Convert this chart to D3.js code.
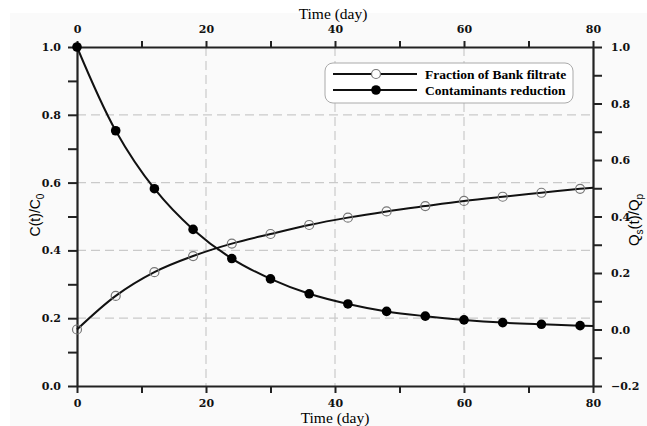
<!DOCTYPE html>
<html>
<head>
<meta charset="utf-8">
<script src="https://cdn.jsdelivr.net/npm/d3@7"></script>
<style>
  body { margin: 0; background: #fff; }
</style>
</head>
<body>
<div id="chart"></div>
<script>
// marker days (every 6 days) and the end of the curves at day 80
var markerDays = [0, 6, 12, 18, 24, 30, 36, 42, 48, 54, 60, 66, 72, 78];
var lineDays = [0, 6, 12, 18, 24, 30, 36, 42, 48, 54, 60, 66, 72, 78, 80];

// C(t)/C0, left axis
var contaminants = [1.0, 0.753, 0.582, 0.462, 0.376, 0.316, 0.272, 0.242, 0.220, 0.206, 0.195, 0.187, 0.182, 0.178, 0.177];
// Qs(t)/Qp, right axis
var bankFiltrate = [0.0, 0.119, 0.203, 0.260, 0.304, 0.338, 0.370, 0.396, 0.418, 0.437, 0.455, 0.470, 0.484, 0.498, 0.502];

var xTicks = [0, 10, 20, 30, 40, 50, 60, 70, 80];
var leftTicks = [0, 0.1, 0.2, 0.3, 0.4, 0.5, 0.6, 0.7, 0.8, 0.9, 1.0];
var rightTicks = [-0.2, -0.1, 0, 0.1, 0.2, 0.3, 0.4, 0.5, 0.6, 0.7, 0.8, 0.9, 1.0];
var gridX = [20, 40, 60];
var gridY = [0.2, 0.4, 0.6, 0.8];
var legendLabels = ["Fraction of Bank filtrate", "Contaminants reduction"];

var W = 647, H = 426;
var margins = { top: 47, right: 54, bottom: 40, left: 77 },
  width = W - margins.left - margins.right,
  height = H - margins.top - margins.bottom;

var svg = d3.select("#chart").append("svg")
  .attr("width", W).attr("height", H);

svg.append("rect").attr("x", 10).attr("y", 13).attr("width", W - 10).attr("height", H - 13).attr("fill", "#fafafa");

var g = svg.append("g").attr("transform", "translate(" + margins.left + "," + margins.top + ")");

var x = d3.scaleLinear().domain([0, 80]).range([0, width]);
var yL = d3.scaleLinear().domain([0, 1]).range([height, 0]);
var yR = d3.scaleLinear().domain([-0.2, 1]).range([height, 0]);

var tickFont = "'DejaVu Serif', serif";

// grid
g.selectAll(".gx").data(gridX).enter().append("line")
  .attr("x1", d => x(d)).attr("x2", d => x(d)).attr("y1", 0).attr("y2", height)
  .attr("stroke", "#cacaca").attr("stroke-width", 1.2).attr("stroke-dasharray", "9,5");
g.selectAll(".gy").data(gridY).enter().append("line")
  .attr("x1", 0).attr("x2", width).attr("y1", d => yL(d)).attr("y2", d => yL(d))
  .attr("stroke", "#cacaca").attr("stroke-width", 1.2).attr("stroke-dasharray", "9,5");

function fmtX(d) { return d % 20 === 0 ? d : ""; }
function fmtY(d) { return Math.round(d * 10) % 2 === 0 ? d3.format(".1f")(d) : ""; }

function styleAxis(sel) {
  sel.attr("font-family", tickFont).attr("font-size", 11).attr("font-weight", "bold");
  sel.selectAll("path").attr("stroke", "#222").attr("stroke-width", 2.2);
  sel.selectAll("line").attr("stroke", "#222").attr("stroke-width", 2);
  sel.selectAll("text").attr("fill", "#111");
}

g.append("g").attr("transform", "translate(0," + height + ")")
  .call(d3.axisBottom(x).tickValues(xTicks).tickFormat(fmtX).tickSize(7).tickPadding(6).tickSizeOuter(0))
  .call(styleAxis);
g.append("g")
  .call(d3.axisTop(x).tickValues(xTicks).tickFormat(fmtX).tickSize(6).tickPadding(8).tickSizeOuter(0))
  .call(styleAxis);
g.append("g")
  .call(d3.axisLeft(yL).tickValues(leftTicks).tickFormat(fmtY).tickSize(9).tickPadding(7).tickSizeOuter(0))
  .call(styleAxis);
g.append("g").attr("transform", "translate(" + width + ",0)")
  .call(d3.axisRight(yR).tickValues(rightTicks).tickFormat(fmtY).tickSize(9).tickPadding(9).tickSizeOuter(0))
  .call(styleAxis);

// curves
var lineL = d3.line().x((d, i) => x(lineDays[i])).y(d => yL(d)).curve(d3.curveCatmullRom);
var lineR = d3.line().x((d, i) => x(lineDays[i])).y(d => yR(d)).curve(d3.curveCatmullRom);

g.append("path").datum(bankFiltrate).attr("fill", "none").attr("stroke", "#111").attr("stroke-width", 2).attr("d", lineR);
g.append("path").datum(contaminants).attr("fill", "none").attr("stroke", "#111").attr("stroke-width", 2).attr("d", lineL);

g.selectAll(".mo").data(markerDays).enter().append("circle")
  .attr("cx", d => x(d)).attr("cy", (d, i) => yR(bankFiltrate[i])).attr("r", 4.5)
  .attr("fill", "none").attr("stroke", "#777").attr("stroke-width", 1.2);
g.selectAll(".mf").data(markerDays).enter().append("circle")
  .attr("cx", d => x(d)).attr("cy", (d, i) => yL(contaminants[i])).attr("r", 4.8)
  .attr("fill", "#000");

// titles
svg.append("text").attr("x", 335).attr("y", 423).attr("text-anchor", "middle")
  .attr("font-family", "'Liberation Serif', serif").attr("font-size", 15.5).text("Time (day)");
svg.append("text").attr("x", 333).attr("y", 19).attr("text-anchor", "middle")
  .attr("font-family", "'Liberation Serif', serif").attr("font-size", 15.5).text("Time (day)");

var tl = svg.append("text").attr("transform", "translate(40,215) rotate(-90)").attr("text-anchor", "middle")
  .attr("font-family", "'Liberation Sans', sans-serif").attr("font-size", 14);
tl.append("tspan").text("C(t)/C");
tl.append("tspan").attr("font-size", 10).attr("dy", 4).text("0");

var tr = svg.append("text").attr("transform", "translate(639,220) rotate(-90)").attr("text-anchor", "middle")
  .attr("font-family", "'Liberation Sans', sans-serif").attr("font-size", 15);
tr.append("tspan").text("Q");
tr.append("tspan").attr("font-size", 10).attr("dy", 4).text("s");
tr.append("tspan").attr("dy", -4).text("(t)/Q");
tr.append("tspan").attr("font-size", 10).attr("dy", 4).text("p");

// legend
var lg = svg.append("g");
lg.append("rect").attr("x", 325).attr("y", 63).attr("width", 248).attr("height", 40).attr("rx", 8)
  .attr("fill", "#fff").attr("stroke", "#aaa").attr("stroke-width", 1);
legendLabels.forEach(function (lab, i) {
  var yy = 74 + i * 16;
  lg.append("line").attr("x1", 333).attr("x2", 417).attr("y1", yy).attr("y2", yy)
    .attr("stroke", "#111").attr("stroke-width", 2);
  if (i === 0) {
    lg.append("circle").attr("cx", 376).attr("cy", yy).attr("r", 4.5).attr("fill", "#fff").attr("stroke", "#777").attr("stroke-width", 1.2);
  } else {
    lg.append("circle").attr("cx", 376).attr("cy", yy).attr("r", 4.8).attr("fill", "#000");
  }
  lg.append("text").attr("x", 425).attr("y", yy + 4.5)
    .attr("font-family", "'Liberation Serif', serif").attr("font-weight", "bold").attr("font-size", 13.5)
    .text(lab);
});
</script>
</body>
</html>
